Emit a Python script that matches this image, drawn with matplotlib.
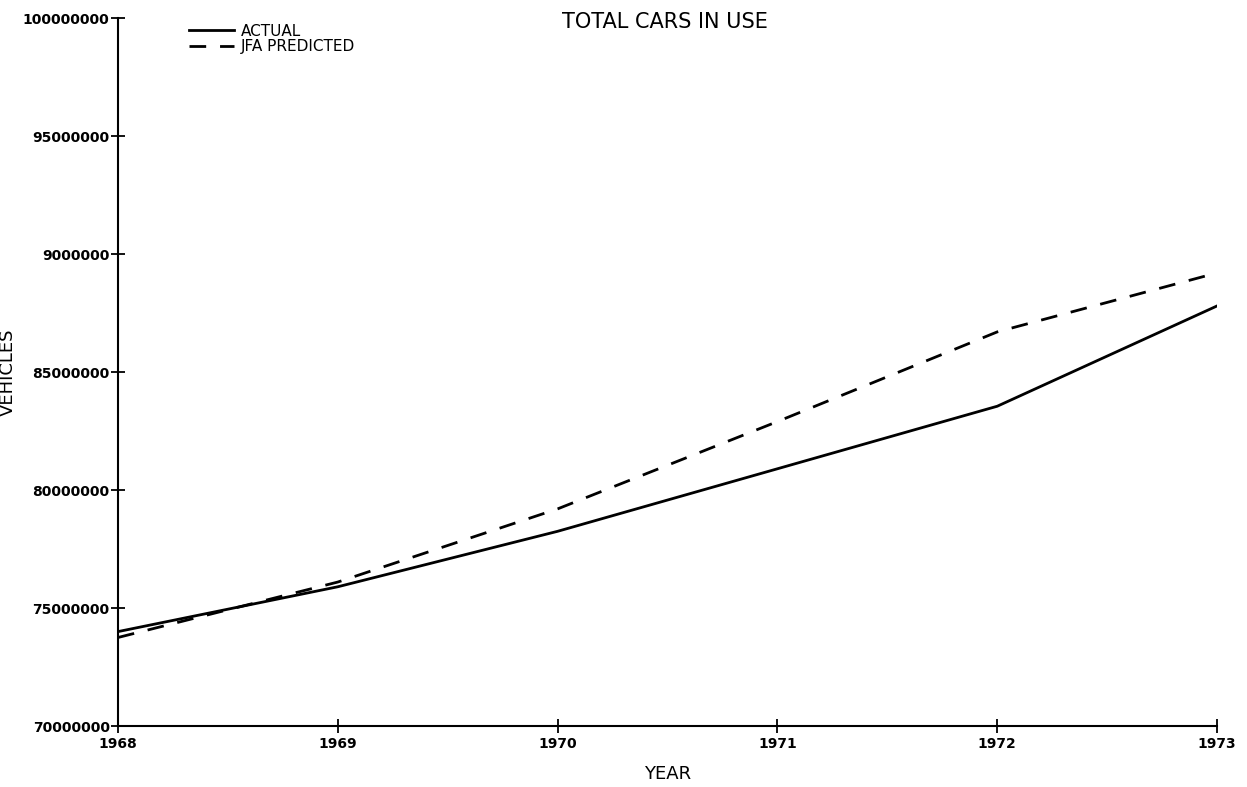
import matplotlib.pyplot as plt

# Data
years = [1968, 1969, 1970, 1971, 1972, 1973]
actual = [74.0e6, 75.9e6, 78.25e6, 80.9e6, 83.55e6, 87.8e6]
predicted = [73.75e6, 76.1e6, 79.2e6, 82.9e6, 86.7e6, 89.2e6]

y_ticks = [70000000, 75000000, 80000000, 85000000, 90000000, 95000000, 100000000]
y_tick_labels = ['70000000', '75000000', '80000000', '85000000', '9000000', '95000000', '100000000']

fig = plt.figure(figsize=(12.47, 7.87), dpi=100)
ax = fig.add_axes([0.0946, 0.0775, 0.8814, 0.8996])

ax.plot(years, actual, color='black', linewidth=2, label='ACTUAL')
ax.plot(years, predicted, color='black', linewidth=2, linestyle=(0, (6, 5)), label='JFA PREDICTED')

ax.set_xlim(1968, 1973)
ax.set_ylim(70000000, 100000000)
ax.set_xticks(years)
ax.set_xticklabels([str(y) for y in years], fontsize=10, fontweight='bold')
ax.set_yticks(y_ticks)
ax.set_yticklabels(y_tick_labels, fontsize=10, fontweight='bold')

for s in ['top', 'right']:
    ax.spines[s].set_visible(False)
for s in ['left', 'bottom']:
    ax.spines[s].set_linewidth(1.5)
ax.tick_params(axis='y', direction='inout', length=10, width=1.3, pad=1)
ax.tick_params(axis='x', direction='inout', length=10, width=1.3, pad=3)

fig.text(0.533, 0.985, 'TOTAL CARS IN USE', fontsize=15, ha='center', va='top')
ax.set_xlabel('YEAR', fontsize=13, labelpad=10)
ax.set_ylabel('VEHICLES', fontsize=13, labelpad=4)

ax.legend(loc='upper left', bbox_to_anchor=(0.058, 1.003), frameon=False,
          fontsize=11, handlelength=2.9, handletextpad=0.5, labelspacing=0.05, borderpad=0)

plt.savefig('out.png', dpi=100)
